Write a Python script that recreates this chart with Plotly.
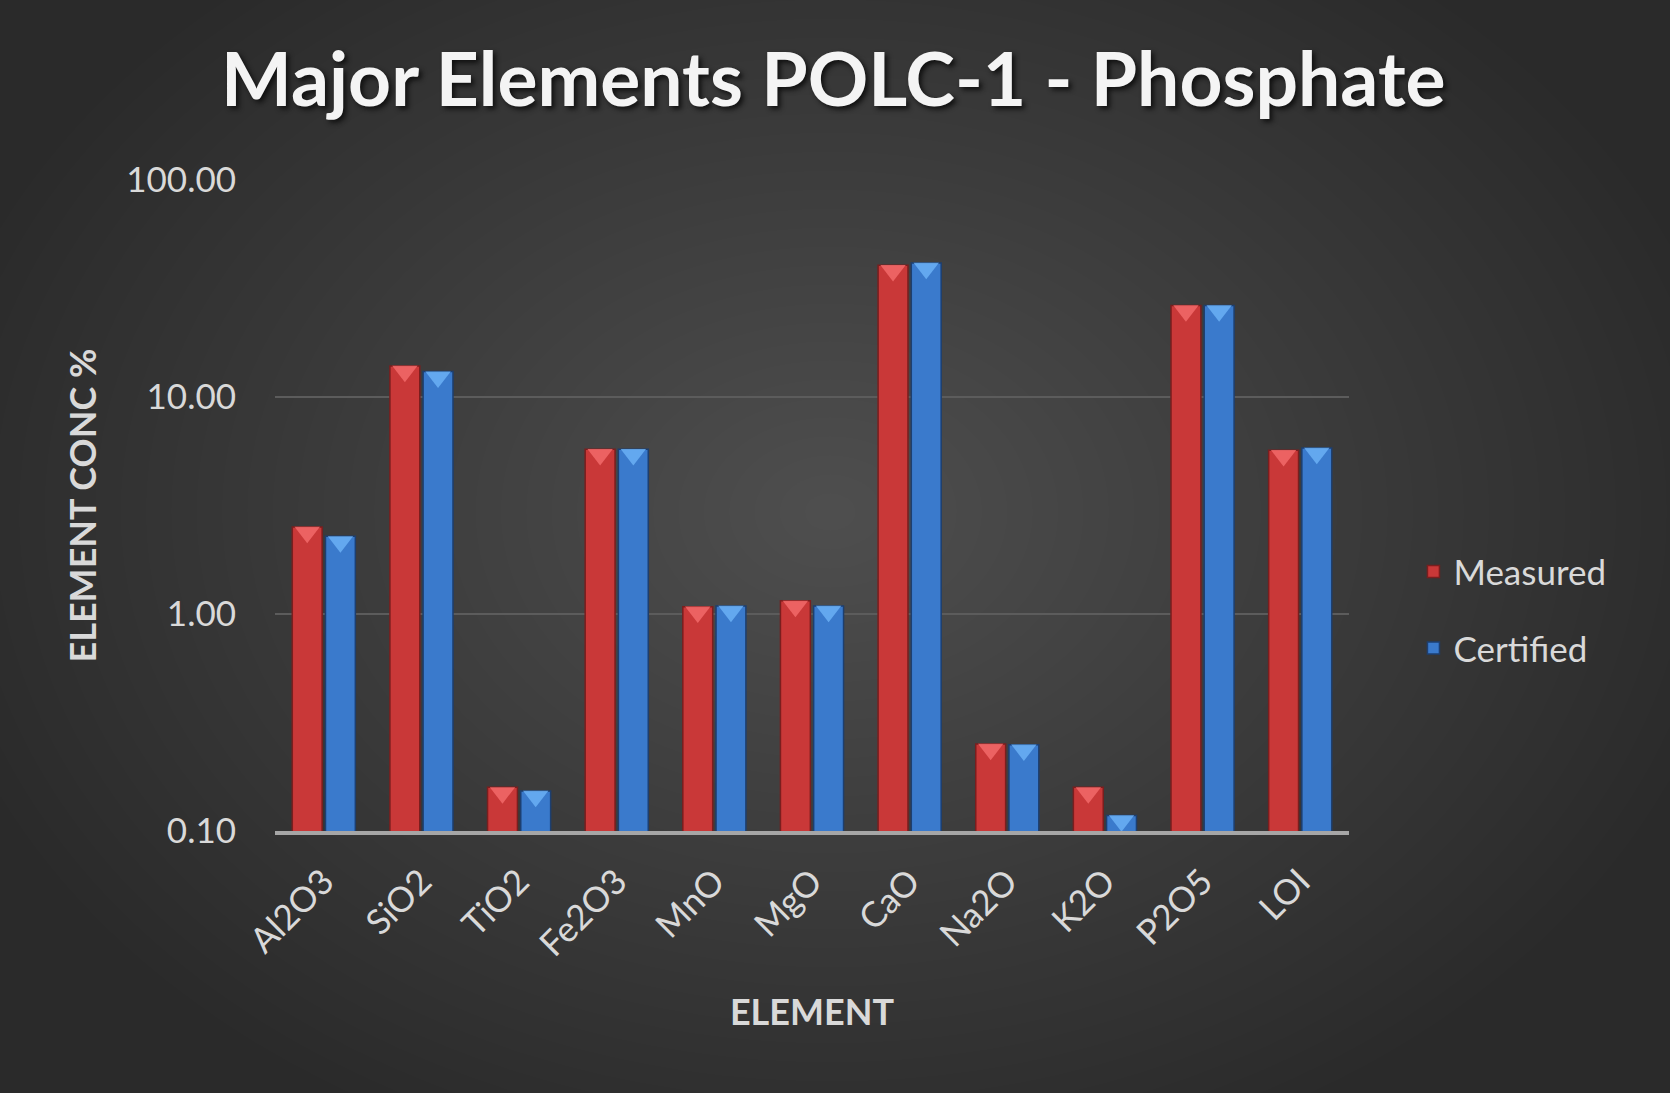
import plotly.graph_objects as go

# values (log scale, %)
elements = ["Al2O3", "SiO2", "TiO2", "Fe2O3", "MnO", "MgO", "CaO", "Na2O", "K2O", "P2O5", "LOI"]
measured = [2.52, 13.9, 0.159, 5.75, 1.08, 1.15, 40.5, 0.252, 0.159, 26.4, 5.69]
certified = [2.28, 13.1, 0.153, 5.75, 1.09, 1.09, 41.5, 0.250, 0.118, 26.4, 5.82]
y_ticks = [0.1, 1, 10, 100]

FONT = "Lato"
TXT = "#d9d9d9"
RED, RED_DARK, RED_TIP = "#c93838", "#7a1e1e", "#f26a6a"
BLUE, BLUE_DARK, BLUE_TIP = "#3a7acc", "#1d3f70", "#6bb0f5"

fig = go.Figure()

fig.add_trace(go.Bar(
    x=elements, y=measured, name="Measured", offsetgroup="m", legendgroup="m",
    marker=dict(color=RED, line=dict(color=RED_DARK, width=1.5)),
))
fig.add_trace(go.Bar(
    x=elements, y=certified, name="Certified", offsetgroup="c", legendgroup="c",
    marker=dict(color=BLUE, line=dict(color=BLUE_DARK, width=1.5)),
))

# bevel triangles sitting just under the top of each bar
fig.add_trace(go.Scatter(
    x=elements, y=[v * 0.945 for v in measured], mode="markers", offsetgroup="m",
    marker=dict(symbol="triangle-down", size=22, color=RED_TIP, opacity=0.85, line=dict(width=0)),
    showlegend=False, hoverinfo="skip",
))
fig.add_trace(go.Scatter(
    x=elements, y=[v * 0.945 for v in certified], mode="markers", offsetgroup="c",
    marker=dict(symbol="triangle-down", size=22, color=BLUE_TIP, opacity=0.85, line=dict(width=0)),
    showlegend=False, hoverinfo="skip",
))

# radial-ish background glow (many faint layers to avoid banding)
shapes = []
n = 36
for i in range(n):
    k = 1 - i / n
    shapes.append(dict(
        type="circle", xref="paper", yref="paper", layer="below",
        x0=0.517 - 0.85 * k, x1=0.517 + 0.85 * k,
        y0=0.49 - 1.05 * k, y1=0.49 + 1.05 * k,
        fillcolor="rgba(255,255,255,0.0065)", line=dict(width=0),
    ))

fig.update_layout(
    width=1670, height=1093,
    margin=dict(l=275, r=321, t=180, b=262),
    paper_bgcolor="#2a2a2a",
    plot_bgcolor="rgba(0,0,0,0)",
    font=dict(family=FONT, size=34, color=TXT),
    title=dict(
        text="<b>Major Elements POLC-1 - Phosphate</b>",
        x=0.499, xanchor="center", y=0.927, yanchor="middle",
        font=dict(family=FONT, size=75, color="#f4f4f4", shadow="3px 3px 5px #111"),
    ),
    barmode="group", bargap=0.32, bargroupgap=0.1,
    scattermode="group", scattergap=0.32,
    xaxis=dict(
        tickangle=-45, tickfont=dict(size=35, color=TXT), ticklabelstandoff=12,
        showgrid=False, showline=True, linecolor="#a6a6a6", linewidth=4,
        title=dict(text="<b>ELEMENT</b>", font=dict(size=36, color=TXT), standoff=38),
    ),
    yaxis=dict(
        type="log", range=[-1, 2], tickvals=y_ticks, tickformat=".2f",
        tickfont=dict(size=35, color=TXT), ticklabelstandoff=38,
        gridcolor="#5c5c5c", gridwidth=2, zeroline=False, showline=False,
        title=dict(text="<b>ELEMENT CONC %</b>", font=dict(size=36, color=TXT), standoff=18),
    ),
    legend=dict(
        x=1.06, y=0.34, xanchor="left", yanchor="middle",
        font=dict(size=35, color=TXT), tracegroupgap=28,
        bgcolor="rgba(0,0,0,0)",
    ),
    shapes=shapes,
)

fig.write_html("out.html", config={"displayModeBar": False},
               post_script="document.body.style.margin='0';")
